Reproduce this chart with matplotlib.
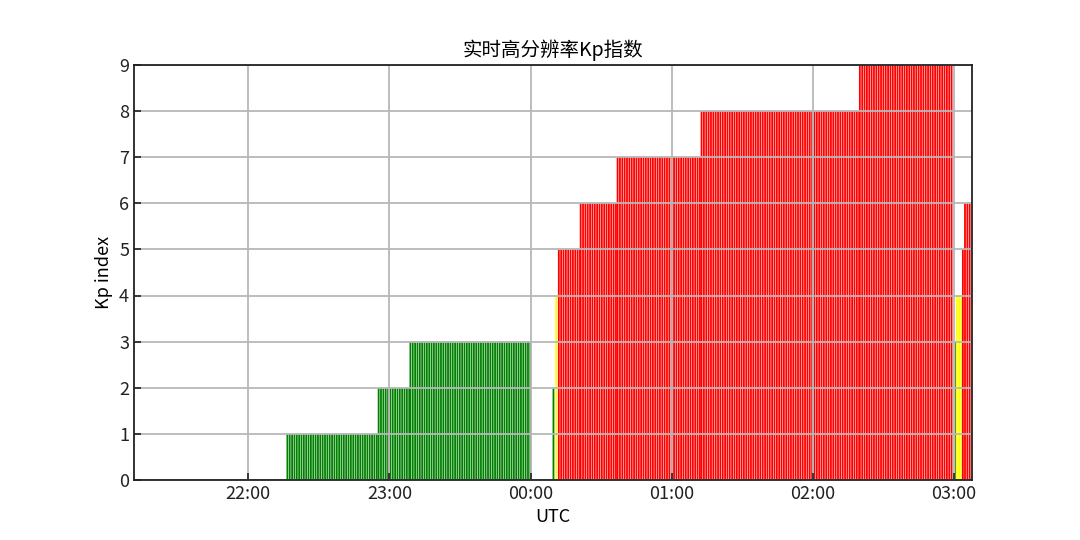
import numpy as np
import pandas as pd
import matplotlib
matplotlib.use("Agg")
import matplotlib.pyplot as plt
import matplotlib.dates as mdates

plt.rcParams['font.family'] = ['Noto Sans CJK SC', 'DejaVu Sans']

# Kp level segments (UTC, one bar per minute)
seg_start = ["2024-05-10 22:16:12", "2024-05-10 22:55:00", "2024-05-10 23:08:30",
             "2024-05-11 00:09:20", "2024-05-11 00:10:30", "2024-05-11 00:11:36",
             "2024-05-11 00:20:54", "2024-05-11 00:36:36", "2024-05-11 01:12:18",
             "2024-05-11 02:19:36", "2024-05-11 03:00:30", "2024-05-11 03:00:48",
             "2024-05-11 03:03:24", "2024-05-11 03:04:18"]
seg_end = ["2024-05-10 22:55:00", "2024-05-10 23:08:30", "2024-05-10 23:59:36",
           "2024-05-11 00:10:20", "2024-05-11 00:11:30", "2024-05-11 00:20:54",
           "2024-05-11 00:36:36", "2024-05-11 01:12:18", "2024-05-11 02:19:36",
           "2024-05-11 02:59:24", "2024-05-11 03:00:48", "2024-05-11 03:03:24",
           "2024-05-11 03:04:18", "2024-05-11 03:06:48"]
seg_kp = [1, 2, 3, 2, 4, 5, 6, 7, 8, 9, 3, 4, 5, 6]

x_start = "2024-05-10 21:11:20"
x_end = "2024-05-11 03:07:40"

# expand segments into minute bars
times = []
kp = []
for s, e, k in zip(seg_start, seg_end, seg_kp):
    t = pd.date_range(s, e, freq="1min", inclusive="left")
    times.extend(t)
    kp.extend([k] * len(t))
kp = np.array(kp)

colors = []
for k in kp:
    if k < 4:
        colors.append("green")
    elif k == 4:
        colors.append("yellow")
    else:
        colors.append("red")

fig = plt.figure(figsize=(10.8, 5.4), dpi=100)
ax = fig.add_axes([0.124, 0.111, 0.776, 0.769])

ax.bar(times, kp, width=0.77 / 1440, align="edge", color=colors,
       linewidth=0, snap=False)

ax.set_xlim(pd.Timestamp(x_start), pd.Timestamp(x_end))
ax.set_ylim(0, 9)
ax.set_yticks(range(10))
ax.xaxis.set_major_locator(mdates.HourLocator())
ax.xaxis.set_major_formatter(mdates.DateFormatter("%H:%M"))

ax.grid(True, color="#b8b8b8", linewidth=1.3)
ax.tick_params(direction="in", length=5, width=1.2, labelsize=13, colors="#222222")
for sp in ax.spines.values():
    sp.set_color("#222222")
    sp.set_linewidth(1.3)

ax.set_title("实时高分辨率Kp指数", fontsize=14, pad=6)
ax.set_xlabel("UTC", fontsize=13)
ax.set_ylabel("Kp index", fontsize=13)

fig.savefig("out.png", dpi=100)
